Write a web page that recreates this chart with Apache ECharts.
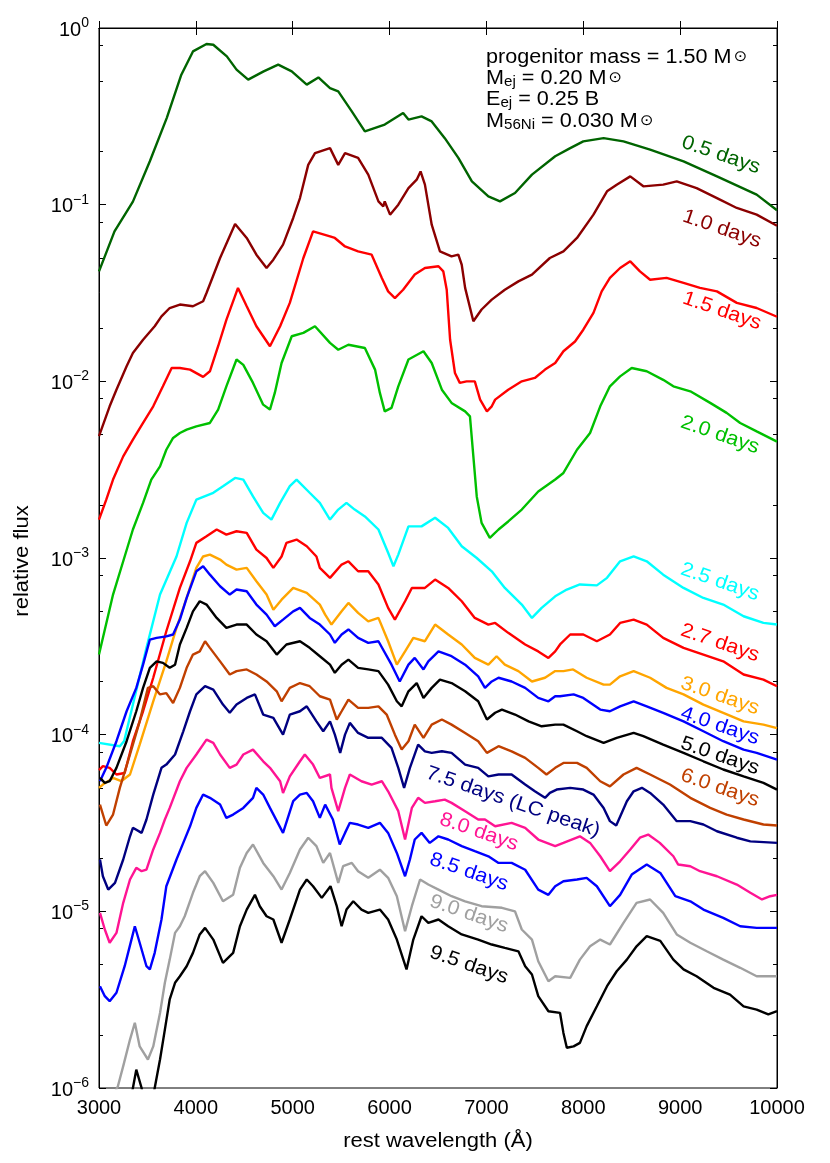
<!DOCTYPE html>
<html><head><meta charset="utf-8">
<script src="https://cdn.jsdelivr.net/npm/echarts@6/dist/echarts.min.js"></script>
<style>html,body{margin:0;padding:0;background:#fff}#c{width:830px;height:1163px}</style>
</head><body><div id="c"></div>
<script>
// ---- data: [rest wavelength (Å), relative flux] ----
const day05 = [[3000,0.0419],[3160,0.0706],[3350,0.104],[3525,0.176],[3700,0.31],[3850,0.544],[3970,0.737],[4110,0.812],[4180,0.804],[4320,0.691],[4420,0.581],[4540,0.51],[4700,0.568],[4850,0.62],[4990,0.568],[5145,0.478],[5265,0.525],[5385,0.457],[5470,0.438],[5610,0.337],[5745,0.26],[5950,0.284],[6140,0.33],[6195,0.303],[6330,0.316],[6435,0.296],[6570,0.238],[6710,0.184],[6850,0.1355],[7020,0.1114],[7140,0.1044],[7295,0.1165],[7470,0.148],[7710,0.188],[7865,0.209],[8000,0.228],[8210,0.238],[8415,0.228],[8690,0.205],[9035,0.176],[9380,0.1446],[9790,0.114],[10000,0.093]];
const day10 = [[3000,0.00489],[3110,0.00722],[3180,0.00897],[3285,0.01216],[3350,0.01448],[3455,0.0172],[3575,0.0205],[3645,0.0233],[3730,0.026],[3835,0.0272],[3970,0.0266],[4075,0.0284],[4110,0.0316],[4250,0.0499],[4405,0.0778],[4525,0.0648],[4625,0.0521],[4730,0.0438],[4800,0.0488],[4900,0.0594],[5005,0.0841],[5075,0.109],[5160,0.168],[5230,0.196],[5385,0.209],[5470,0.168],[5540,0.196],[5675,0.184],[5780,0.148],[5885,0.1044],[5935,0.0978],[5950,0.1044],[6005,0.0878],[6090,0.1],[6195,0.124],[6280,0.1385],[6320,0.1543],[6365,0.1298],[6435,0.077],[6520,0.0544],[6640,0.051],[6710,0.0521],[6745,0.0457],[6780,0.0338],[6865,0.0219],[6950,0.0255],[7055,0.029],[7190,0.033],[7330,0.0368],[7470,0.0402],[7655,0.0499],[7795,0.0544],[7935,0.0648],[8105,0.0878],[8245,0.119],[8345,0.1298],[8485,0.1446],[8620,0.127],[8825,0.1298],[8965,0.1355],[9170,0.124],[9380,0.109],[9585,0.0958],[9790,0.0878],[10000,0.076]];
const day15 = [[3000,0.00165],[3075,0.00214],[3145,0.00278],[3250,0.00376],[3350,0.00468],[3455,0.00581],[3560,0.00722],[3660,0.00937],[3750,0.0119],[3835,0.0119],[3940,0.01165],[4075,0.0106],[4145,0.0114],[4230,0.0158],[4315,0.0223],[4435,0.0338],[4525,0.0266],[4625,0.0205],[4765,0.0158],[4870,0.0205],[4970,0.0278],[5110,0.0499],[5210,0.0706],[5385,0.0662],[5435,0.0648],[5540,0.058],[5675,0.0544],[5815,0.0521],[5920,0.0385],[5985,0.0323],[6055,0.0296],[6140,0.033],[6260,0.0402],[6365,0.0438],[6505,0.0448],[6555,0.0419],[6590,0.033],[6625,0.0172],[6675,0.01115],[6725,0.0098],[6795,0.01],[6880,0.01],[6935,0.00788],[7005,0.00676],[7055,0.00722],[7090,0.00788],[7225,0.00897],[7365,0.01],[7500,0.01045],[7605,0.01165],[7710,0.0127],[7795,0.0148],[7915,0.0168],[8000,0.0196],[8105,0.0244],[8190,0.0323],[8275,0.0385],[8380,0.0438],[8485,0.0478],[8585,0.0419],[8690,0.0376],[8860,0.0385],[9035,0.0361],[9205,0.0338],[9380,0.0323],[9585,0.0278],[9790,0.026],[10000,0.0232]];
const day20 = [[3000,0.000284],[3145,0.000621],[3265,0.00102],[3350,0.00145],[3455,0.00205],[3540,0.00278],[3630,0.0033],[3695,0.0041],[3765,0.00478],[3835,0.0051],[3905,0.00533],[4005,0.00556],[4145,0.00581],[4230,0.00692],[4315,0.00937],[4420,0.0133],[4490,0.0124],[4590,0.0098],[4695,0.00738],[4765,0.00692],[4815,0.0086],[4885,0.0127],[4990,0.018],[5110,0.0188],[5230,0.0205],[5385,0.0165],[5470,0.0151],[5575,0.0161],[5745,0.01545],[5850,0.01165],[5900,0.0086],[5950,0.00676],[6020,0.00707],[6090,0.00937],[6195,0.0133],[6350,0.0148],[6435,0.0127],[6540,0.00897],[6640,0.00755],[6780,0.00676],[6830,0.00634],[6865,0.00376],[6900,0.00223],[6950,0.00158],[7035,0.0013],[7125,0.00145],[7225,0.00161],[7365,0.00188],[7535,0.00238],[7710,0.00278],[7795,0.00303],[7935,0.0041],[8070,0.0051],[8175,0.00722],[8275,0.00937],[8380,0.01067],[8500,0.0119],[8655,0.0114],[8825,0.0102],[8930,0.00937],[9105,0.00878],[9310,0.00755],[9480,0.00663],[9620,0.00581],[9790,0.00521],[10000,0.00456]];
const day25 = [[3000,8.99e-5],[3215,8.6e-5],[3260,9.2e-5],[3350,1.48e-4],[3490,3.1e-4],[3630,6.21e-4],[3800,1.02e-3],[3905,1.58e-3],[4005,2.14e-3],[4180,2.34e-3],[4280,2.55e-3],[4405,2.84e-3],[4490,2.78e-3],[4590,2.23e-3],[4695,1.8e-3],[4780,1.65e-3],[4870,2.05e-3],[4970,2.55e-3],[5040,2.78e-3],[5175,2.34e-3],[5280,2.05e-3],[5385,1.65e-3],[5470,1.88e-3],[5555,2.05e-3],[5640,1.88e-3],[5745,1.72e-3],[5885,1.45e-3],[5985,1.07e-3],[6040,8.98e-4],[6090,1.045e-3],[6195,1.51e-3],[6330,1.51e-3],[6470,1.69e-3],[6605,1.48e-3],[6745,1.165e-3],[6900,1.0e-3],[7055,8.41e-4],[7190,6.77e-4],[7365,5.45e-4],[7470,4.58e-4],[7570,5.22e-4],[7710,6.07e-4],[7830,6.63e-4],[7965,7.08e-4],[8140,7.0e-4],[8245,7.72e-4],[8380,9.58e-4],[8520,1.02e-3],[8655,9.58e-4],[8825,8.05e-4],[9035,6.77e-4],[9240,5.94e-4],[9445,5.45e-4],[9655,4.68e-4],[9860,4.29e-4],[10000,4.2e-4]];
const day27 = [[3000,6.3e-5],[3040,6.63e-5],[3110,6.49e-5],[3180,5.95e-5],[3265,6.07e-5],[3350,9.18e-5],[3455,1.357e-4],[3560,2.1e-4],[3695,3.85e-4],[3835,6.77e-4],[3940,9.58e-4],[4005,1.218e-3],[4110,1.327e-3],[4215,1.45e-3],[4315,1.357e-3],[4420,1.417e-3],[4525,1.387e-3],[4625,1.115e-3],[4730,1.0e-3],[4800,8.79e-4],[4885,1.02e-3],[4935,1.218e-3],[5040,1.271e-3],[5145,1.165e-3],[5245,1.02e-3],[5280,8.79e-4],[5385,7.72e-4],[5505,9.18e-4],[5575,9.58e-4],[5675,8.41e-4],[5780,8.41e-4],[5885,7.08e-4],[5985,5.22e-4],[6055,4.48e-4],[6160,5.69e-4],[6230,6.77e-4],[6365,6.77e-4],[6470,7.55e-4],[6605,6.77e-4],[6745,5.69e-4],[6880,4.58e-4],[7020,4.2e-4],[7090,4.29e-4],[7225,3.77e-4],[7400,3.24e-4],[7535,2.96e-4],[7640,2.72e-4],[7710,2.96e-4],[7760,3.24e-4],[7865,3.69e-4],[8000,3.69e-4],[8140,3.38e-4],[8275,3.69e-4],[8380,4.29e-4],[8520,4.48e-4],[8655,4.2e-4],[8825,3.53e-4],[9035,3.1e-4],[9240,2.84e-4],[9445,2.6e-4],[9655,2.19e-4],[9860,2.05e-4],[10000,1.88e-4]];
const day30 = [[3000,5.0e-5],[3040,5.22e-5],[3145,5.69e-5],[3230,5.45e-5],[3320,5.95e-5],[3420,8.79e-5],[3560,1.545e-4],[3695,2.6e-4],[3800,4.02e-4],[3905,5.94e-4],[4005,8.79e-4],[4075,1.02e-3],[4145,1.045e-3],[4250,9.8e-4],[4315,9.18e-4],[4420,8.6e-4],[4525,8.79e-4],[4625,7.38e-4],[4730,6.21e-4],[4800,5.1e-4],[4885,5.81e-4],[5005,6.77e-4],[5145,6.34e-4],[5280,5.45e-4],[5335,4.78e-4],[5400,4.2e-4],[5505,4.99e-4],[5575,5.57e-4],[5675,4.89e-4],[5780,4.38e-4],[5885,4.58e-4],[5985,3.38e-4],[6075,2.49e-4],[6160,2.96e-4],[6245,3.53e-4],[6365,3.38e-4],[6470,4.2e-4],[6605,3.69e-4],[6745,3.24e-4],[6880,2.72e-4],[7020,2.49e-4],[7105,2.78e-4],[7190,2.49e-4],[7330,2.29e-4],[7470,2.0e-4],[7605,2.1e-4],[7710,2.29e-4],[7795,2.29e-4],[7895,2.34e-4],[8035,2.1e-4],[8210,1.92e-4],[8275,1.92e-4],[8380,2.14e-4],[8520,2.29e-4],[8690,2.1e-4],[8860,1.84e-4],[9035,1.69e-4],[9240,1.48e-4],[9445,1.33e-4],[9655,1.19e-4],[9860,1.14e-4],[10000,1.09e-4]];
const day40 = [[3010,5.45e-5],[3075,6.49e-5],[3180,9.18e-5],[3285,1.357e-4],[3385,1.84e-4],[3455,2.49e-4],[3525,3.45e-4],[3595,3.53e-4],[3695,3.6e-4],[3765,3.69e-4],[3835,4.48e-4],[3905,5.94e-4],[4005,8.41e-4],[4075,8.98e-4],[4145,8.05e-4],[4250,6.92e-4],[4350,6.21e-4],[4420,6.63e-4],[4525,6.48e-4],[4625,5.45e-4],[4730,4.78e-4],[4815,4.11e-4],[4900,4.48e-4],[5005,4.99e-4],[5075,5.22e-4],[5175,4.58e-4],[5280,4.2e-4],[5385,3.69e-4],[5435,3.31e-4],[5505,3.69e-4],[5575,3.94e-4],[5675,3.53e-4],[5780,3.31e-4],[5885,3.38e-4],[6020,2.49e-4],[6105,2.0e-4],[6195,2.49e-4],[6260,2.72e-4],[6350,2.34e-4],[6400,2.6e-4],[6505,2.96e-4],[6640,2.78e-4],[6780,2.49e-4],[6915,2.14e-4],[6985,1.84e-4],[7055,2.0e-4],[7125,2.1e-4],[7260,2.0e-4],[7400,1.84e-4],[7535,1.615e-4],[7640,1.545e-4],[7710,1.65e-4],[7760,1.65e-4],[7900,1.69e-4],[8000,1.615e-4],[8175,1.387e-4],[8275,1.357e-4],[8380,1.447e-4],[8520,1.545e-4],[8655,1.447e-4],[8825,1.33e-4],[9035,1.19e-4],[9240,1.045e-4],[9445,9.18e-5],[9655,8.23e-5],[9790,7.89e-5],[10000,7.23e-5]];
const day50 = [[3010,5.69e-5],[3060,5.33e-5],[3110,5.45e-5],[3180,6.49e-5],[3285,9.18e-5],[3385,1.357e-4],[3455,1.84e-4],[3525,2.39e-4],[3595,2.6e-4],[3660,2.55e-4],[3730,2.39e-4],[3785,2.49e-4],[3835,3.24e-4],[3905,4.02e-4],[3970,4.99e-4],[4040,5.69e-4],[4110,5.45e-4],[4215,4.58e-4],[4315,4.02e-4],[4420,4.2e-4],[4525,4.2e-4],[4625,3.69e-4],[4730,3.38e-4],[4835,2.84e-4],[4935,3.24e-4],[5075,3.38e-4],[5175,3.1e-4],[5280,2.78e-4],[5385,2.49e-4],[5435,2.24e-4],[5505,2.49e-4],[5575,2.66e-4],[5675,2.39e-4],[5780,2.34e-4],[5885,2.29e-4],[5985,1.92e-4],[6075,1.545e-4],[6125,1.447e-4],[6195,1.76e-4],[6280,1.96e-4],[6350,1.615e-4],[6435,1.84e-4],[6520,2.05e-4],[6640,1.96e-4],[6780,1.76e-4],[6915,1.545e-4],[7005,1.218e-4],[7090,1.33e-4],[7160,1.387e-4],[7295,1.3e-4],[7435,1.19e-4],[7570,1.115e-4],[7710,1.14e-4],[7795,1.14e-4],[7935,1.045e-4],[8035,9.8e-5],[8210,8.99e-5],[8345,9.6e-5],[8520,1.023e-4],[8620,9.8e-5],[8825,8.79e-5],[9035,7.89e-5],[9240,7.07e-5],[9445,6.35e-5],[9655,5.81e-5],[9860,5.33e-5],[10000,4.89e-5]];
const day60 = [[3010,4.02e-5],[3075,3.06e-5],[3145,3.53e-5],[3215,5.0e-5],[3320,7.72e-5],[3420,1.19e-4],[3505,1.84e-4],[3560,1.88e-4],[3630,1.69e-4],[3695,1.72e-4],[3765,1.51e-4],[3835,1.84e-4],[3905,2.39e-4],[3970,2.84e-4],[4040,2.96e-4],[4095,3.38e-4],[4145,3.1e-4],[4250,2.6e-4],[4350,2.19e-4],[4420,2.29e-4],[4525,2.34e-4],[4625,2.19e-4],[4730,2.0e-4],[4835,1.76e-4],[4885,1.545e-4],[4970,1.84e-4],[5075,1.96e-4],[5175,1.88e-4],[5280,1.65e-4],[5385,1.58e-4],[5455,1.218e-4],[5505,1.357e-4],[5575,1.58e-4],[5675,1.418e-4],[5780,1.418e-4],[5885,1.447e-4],[5970,1.3e-4],[6055,1.0e-4],[6125,8.23e-5],[6195,9.18e-5],[6260,1.14e-4],[6350,9.6e-5],[6435,1.14e-4],[6540,1.218e-4],[6640,1.14e-4],[6780,1.023e-4],[6915,9.18e-5],[7005,7.89e-5],[7125,8.6e-5],[7260,8.05e-5],[7400,7.39e-5],[7535,6.49e-5],[7620,5.95e-5],[7710,6.49e-5],[7795,6.92e-5],[7935,6.92e-5],[8035,6.49e-5],[8175,5.45e-5],[8275,5.1e-5],[8415,5.95e-5],[8550,6.49e-5],[8690,5.95e-5],[8895,5.22e-5],[9105,4.39e-5],[9310,3.85e-5],[9480,3.53e-5],[9655,3.31e-5],[9860,3.1e-5],[10000,3.06e-5]];
const day75 = [[3010,1.965e-5],[3040,1.58e-5],[3095,1.328e-5],[3165,1.45e-5],[3250,1.965e-5],[3320,2.66e-5],[3350,2.97e-5],[3440,2.78e-5],[3490,3.31e-5],[3560,4.58e-5],[3645,6.49e-5],[3695,6.77e-5],[3785,7.72e-5],[3870,1.045e-4],[3940,1.357e-4],[4005,1.69e-4],[4095,1.88e-4],[4180,1.8e-4],[4280,1.48e-4],[4350,1.33e-4],[4420,1.48e-4],[4525,1.615e-4],[4610,1.69e-4],[4695,1.3e-4],[4800,1.245e-4],[4900,1.0e-4],[4970,1.3e-4],[5075,1.357e-4],[5145,1.447e-4],[5245,1.19e-4],[5315,1.045e-4],[5385,1.19e-4],[5435,1.0e-4],[5490,7.89e-5],[5540,1.0e-4],[5590,1.166e-4],[5675,1.023e-4],[5780,9.6e-5],[5920,9.6e-5],[6020,8.42e-5],[6090,6.49e-5],[6150,5.0e-5],[6210,6.49e-5],[6295,8.79e-5],[6365,8.05e-5],[6435,7.89e-5],[6540,8.05e-5],[6640,7.89e-5],[6780,6.77e-5],[6915,6.49e-5],[7020,5.81e-5],[7125,5.95e-5],[7260,5.95e-5],[7400,5.22e-5],[7500,4.78e-5],[7605,4.39e-5],[7655,4.68e-5],[7725,4.89e-5],[7865,5.0e-5],[8000,4.89e-5],[8105,4.58e-5],[8210,3.85e-5],[8275,3.24e-5],[8340,3.06e-5],[8450,4.2e-5],[8520,4.78e-5],[8605,5.0e-5],[8690,4.68e-5],[8825,4.02e-5],[8965,3.24e-5],[9105,3.24e-5],[9240,3.1e-5],[9380,2.84e-5],[9585,2.61e-5],[9725,2.49e-5],[10000,2.44e-5]];
const day80 = [[3010,9.8e-6],[3060,7.89e-6],[3110,6.64e-6],[3180,7.55e-6],[3250,1.117e-5],[3320,1.514e-5],[3385,1.763e-5],[3440,1.687e-5],[3490,1.72e-5],[3560,2.24e-5],[3630,2.78e-5],[3680,3.31e-5],[3730,3.85e-5],[3835,5.45e-5],[3905,6.49e-5],[4005,7.72e-5],[4110,9.38e-5],[4180,8.99e-5],[4250,7.72e-5],[4350,6.49e-5],[4420,6.77e-5],[4490,7.72e-5],[4590,8.23e-5],[4695,7.07e-5],[4765,6.49e-5],[4870,5.45e-5],[4900,4.68e-5],[4970,5.81e-5],[5075,7.07e-5],[5125,7.72e-5],[5210,6.77e-5],[5280,5.69e-5],[5385,5.95e-5],[5400,5.0e-5],[5470,3.69e-5],[5540,5.0e-5],[5590,5.95e-5],[5710,5.45e-5],[5815,5.22e-5],[5920,5.45e-5],[5985,4.78e-5],[6090,3.69e-5],[6160,2.55e-5],[6230,3.85e-5],[6295,4.39e-5],[6365,4.11e-5],[6470,4.2e-5],[6570,4.29e-5],[6640,4.11e-5],[6780,3.69e-5],[6915,3.31e-5],[6985,3.31e-5],[7090,3.03e-5],[7260,3.17e-5],[7400,2.97e-5],[7535,2.55e-5],[7710,2.34e-5],[7795,2.44e-5],[7965,2.66e-5],[8070,2.44e-5],[8175,2.05e-5],[8275,1.687e-5],[8380,1.92e-5],[8485,2.24e-5],[8585,2.61e-5],[8670,2.72e-5],[8790,2.44e-5],[8930,2.05e-5],[8980,1.84e-5],[9105,1.8e-5],[9205,1.687e-5],[9380,1.58e-5],[9585,1.418e-5],[9725,1.273e-5],[9845,1.167e-5],[9930,1.218e-5],[10000,1.24e-5]];
const day85 = [[3010,3.77e-6],[3060,3.31e-6],[3110,3.1e-6],[3180,3.46e-6],[3265,4.89e-6],[3335,6.92e-6],[3370,8.23e-6],[3420,6.64e-6],[3490,4.89e-6],[3525,4.69e-6],[3575,5.82e-6],[3645,8.99e-6],[3695,1.387e-5],[3800,1.965e-5],[3870,2.44e-5],[3940,3.03e-5],[4005,3.85e-5],[4075,4.58e-5],[4145,4.39e-5],[4250,4.02e-5],[4315,3.38e-5],[4385,3.53e-5],[4490,3.85e-5],[4590,4.39e-5],[4625,5.0e-5],[4695,4.58e-5],[4765,3.85e-5],[4900,2.78e-5],[5005,4.2e-5],[5075,4.58e-5],[5145,4.68e-5],[5210,4.2e-5],[5280,3.38e-5],[5335,4.02e-5],[5415,3.31e-5],[5485,2.39e-5],[5540,2.78e-5],[5590,3.17e-5],[5675,3.1e-5],[5780,2.97e-5],[5900,3.17e-5],[5985,2.78e-5],[6075,2.14e-5],[6160,1.58e-5],[6210,1.965e-5],[6260,2.55e-5],[6330,2.78e-5],[6415,2.44e-5],[6505,2.66e-5],[6605,2.55e-5],[6745,2.34e-5],[6880,2.19e-5],[7020,2.05e-5],[7125,1.88e-5],[7260,1.88e-5],[7400,1.72e-5],[7535,1.328e-5],[7640,1.24e-5],[7710,1.387e-5],[7795,1.48e-5],[7935,1.514e-5],[8035,1.547e-5],[8140,1.387e-5],[8275,1.069e-5],[8380,1.24e-5],[8500,1.615e-5],[8655,1.84e-5],[8795,1.65e-5],[8950,1.218e-5],[9105,1.14e-5],[9240,1.023e-5],[9445,9.19e-6],[9620,8.23e-6],[9790,8.06e-6],[10000,8.06e-6]];
const day90 = [[3100,8e-7],[3195,1.023e-6],[3250,1.33e-6],[3320,1.88e-6],[3370,2.34e-6],[3420,1.72e-6],[3505,1.45e-6],[3560,1.72e-6],[3630,2.66e-6],[3680,3.94e-6],[3730,5.33e-6],[3785,7.55e-6],[3835,8.23e-6],[3885,9.38e-6],[3970,1.273e-5],[4040,1.58e-5],[4095,1.687e-5],[4180,1.45e-5],[4280,1.14e-5],[4385,1.24e-5],[4455,1.763e-5],[4525,2.14e-5],[4590,2.39e-5],[4695,1.88e-5],[4800,1.58e-5],[4885,1.328e-5],[4970,1.65e-5],[5075,2.24e-5],[5160,2.61e-5],[5245,2.34e-5],[5315,1.88e-5],[5385,2.14e-5],[5470,1.45e-5],[5520,1.8e-5],[5610,1.88e-5],[5675,1.687e-5],[5780,1.547e-5],[5900,1.72e-5],[5985,1.547e-5],[6075,1.218e-5],[6160,7.72e-6],[6230,1.069e-5],[6315,1.514e-5],[6400,1.418e-5],[6505,1.328e-5],[6640,1.218e-5],[6780,1.14e-5],[6950,1.069e-5],[7160,1.047e-5],[7295,1.0e-5],[7365,7.89e-6],[7470,6.92e-6],[7535,5.22e-6],[7640,4.02e-6],[7710,4.29e-6],[7865,4.2e-6],[7965,5.33e-6],[8070,6.34e-6],[8175,6.92e-6],[8275,6.49e-6],[8415,8.61e-6],[8550,1.117e-5],[8690,1.167e-5],[8825,9.8e-6],[8965,7.4e-6],[9105,6.64e-6],[9275,5.94e-6],[9445,5.33e-6],[9620,4.79e-6],[9790,4.29e-6],[10000,4.29e-6]];
const day95 = [[3250,5e-7],[3350,1.0e-6],[3385,1.27e-6],[3440,1.0e-6],[3500,6e-7],[3575,1.0e-6],[3630,1.45e-6],[3680,2.14e-6],[3730,3.17e-6],[3785,3.94e-6],[3835,4.29e-6],[3905,4.89e-6],[3970,5.82e-6],[4040,7.4e-6],[4095,8.06e-6],[4180,6.92e-6],[4280,5.11e-6],[4385,5.82e-6],[4455,8.23e-6],[4525,1.023e-5],[4610,1.24e-5],[4660,1.069e-5],[4730,9.38e-6],[4800,8.99e-6],[4885,6.64e-6],[4970,8.99e-6],[5075,1.328e-5],[5145,1.514e-5],[5210,1.387e-5],[5300,1.192e-5],[5390,1.387e-5],[5455,1.069e-5],[5505,8.23e-6],[5555,1.023e-5],[5625,1.14e-5],[5710,1.023e-5],[5780,9.8e-6],[5900,1.023e-5],[5985,8.99e-6],[6075,6.92e-6],[6175,4.69e-6],[6245,6.92e-6],[6330,9.38e-6],[6400,8.61e-6],[6505,8.99e-6],[6605,8.23e-6],[6745,7.4e-6],[6915,6.92e-6],[7055,6.49e-6],[7190,6.21e-6],[7330,5.94e-6],[7400,4.89e-6],[7470,4.39e-6],[7535,3.31e-6],[7640,2.72e-6],[7760,2.66e-6],[7795,2.05e-6],[7830,1.69e-6],[7900,1.72e-6],[7965,1.8e-6],[8035,2.24e-6],[8140,2.9e-6],[8245,3.77e-6],[8345,4.58e-6],[8450,5.33e-6],[8550,6.34e-6],[8655,7.23e-6],[8795,6.8e-6],[8930,5.33e-6],[9035,4.69e-6],[9170,4.29e-6],[9345,3.69e-6],[9515,3.38e-6],[9655,2.9e-6],[9790,2.78e-6],[9910,2.61e-6],[10000,2.72e-6]];

const epochNames = ['0.5 days','1.0 days','1.5 days','2.0 days','2.5 days','2.7 days','3.0 days','4.0 days','5.0 days','6.0 days','7.5 days (LC peak)','8.0 days','8.5 days','9.0 days','9.5 days'];
const spectra = [day05,day10,day15,day20,day25,day27,day30,day40,day50,day60,day75,day80,day85,day90,day95];
const yMinorTickValues = [2e-6,5e-6,8e-6,2e-5,5e-5,8e-5,2e-4,5e-4,8e-4,2e-3,5e-3,8e-3,2e-2,5e-2,8e-2,2e-1,5e-1,8e-1];
const annotationLines = [
  '{t|progenitor mass = 1.50 M}{sun|\u2299}',
  '{t|M}{sub|ej}{t| = 0.20 M}{sun|\u2299}',
  '{t|E}{sub|ej}{t| = 0.25 B}',
  '{t|M}{sub|56Ni}{t| = 0.030 M}{sun|\u2299}'
];

// ---- styling ----
const FONT = '"Liberation Sans", Arial, Helvetica, sans-serif';
const colors = ['#006400','#8b0000','#ff0000','#00c000','#00ffff','#ff0000','#ffa500','#0000ff','#000000','#c04000','#000080','#ff1493','#0000ff','#a0a0a0','#000000'];
const labelPos = [[721,155],[722,229],[722,311],[720,435],[720,582],[720,643],[720,696],[720,726],[720,756],[720,788],[513,802],[479,832],[469,872],[469,914],[469,965]];
const annotY = [57,78,99,121];

const chart = echarts.init(document.getElementById('c'), null, {renderer:'canvas'});
const axisLineStyle = {show:true, lineStyle:{color:'#000', width:1}};
const xAxisBase = {type:'value', min:3000, max:10000, interval:1000, splitLine:{show:false}, axisLine:axisLineStyle,
  axisTick:{show:true, inside:true, length:7, lineStyle:{color:'#000', width:1}}};
const minorPos = yMinorTickValues.map(v => Math.log10(v));
const yMinorBase = {type:'value', min:-6, max:0, splitLine:{show:false}, axisLine:{show:false}, axisLabel:{show:false},
  axisTick:{show:true, inside:true, length:4, customValues:minorPos, lineStyle:{color:'#000', width:1}}};

const graphics = [];
epochNames.forEach((n,i) => {
  graphics.push({type:'text', x:labelPos[i][0], y:labelPos[i][1], rotation:-0.33, scaleX:1.08, z:100,
    style:{text:n, fill:colors[i], font:'20px ' + FONT, textAlign:'center', textVerticalAlign:'middle', align:'center', verticalAlign:'middle'}});
});
annotationLines.forEach((t,i) => {
  graphics.push({type:'text', x:486, y:annotY[i], scaleX:1.08, z:100,
    style:{text:t, textAlign:'left', textVerticalAlign:'middle', align:'left', verticalAlign:'middle', fill:'#000',
      rich:{t:{fontSize:20, lineHeight:22, fontFamily:FONT, fill:'#000'},
            sub:{fontSize:14, lineHeight:14, verticalAlign:'bottom', fontFamily:FONT, fill:'#000'},
            sun:{fontSize:15, lineHeight:22, fontFamily:'"DejaVu Sans", sans-serif', fill:'#000', padding:[0,0,0,2]}}}});
});
graphics.push({type:'text', x:22, y:561, rotation:Math.PI/2, scaleX:1.1, z:100,
  style:{text:'relative flux', fill:'#000', font:'20px ' + FONT, textAlign:'center', textVerticalAlign:'middle', align:'center', verticalAlign:'middle'}});
graphics.push({type:'text', x:438, y:1141, scaleX:1.1, z:100,
  style:{text:'rest wavelength (\u00c5)', fill:'#000', font:'20px ' + FONT, textAlign:'center', textVerticalAlign:'middle', align:'center', verticalAlign:'middle'}});

const option = {
  animation:false,
  backgroundColor:'#ffffff',
  textStyle:{fontFamily:FONT},
  grid:{left:99, right:53, top:28, bottom:75, show:true, borderColor:'#000', borderWidth:1, backgroundColor:'transparent'},
  xAxis:[
    Object.assign({}, xAxisBase, {position:'bottom',
      axisLabel:{show:true, color:'#000', fontSize:20, margin:10, fontFamily:FONT, formatter:v => String(v)}}),
    Object.assign({}, xAxisBase, {position:'top', axisLabel:{show:false}})
  ],
  yAxis:[
    {type:'log', logBase:10, min:1e-6, max:1, position:'left', splitLine:{show:false}, axisLine:axisLineStyle,
     axisTick:{show:true, inside:true, length:7, lineStyle:{color:'#000', width:1}},
     axisLabel:{show:true, margin:10, color:'#000',
       formatter:v => { const e = Math.round(Math.log10(v)); return '{b|10}{s|' + (e < 0 ? '\u2212' + (-e) : String(e)) + '}'; },
       rich:{b:{fontSize:20, lineHeight:24, verticalAlign:'bottom', fontFamily:FONT, color:'#000'},
             s:{fontSize:14, lineHeight:12, verticalAlign:'top', fontFamily:FONT, color:'#000'}}}},
    {type:'log', logBase:10, min:1e-6, max:1, position:'right', splitLine:{show:false}, axisLine:axisLineStyle,
     axisTick:{show:true, inside:true, length:7, lineStyle:{color:'#000', width:1}}, axisLabel:{show:false}},
    Object.assign({}, yMinorBase, {position:'left'}),
    Object.assign({}, yMinorBase, {position:'right'})
  ],
  series: spectra.map((d,i) => ({
    type:'line', name:epochNames[i], data:d, xAxisIndex:0, yAxisIndex:0,
    symbol:'none', showSymbol:false, smooth:false, clip:true, silent:true,
    lineStyle:{color:colors[i], width:2.4}, itemStyle:{color:colors[i]}
  })),
  graphic: graphics
};
chart.setOption(option);
</script>
</body></html>
